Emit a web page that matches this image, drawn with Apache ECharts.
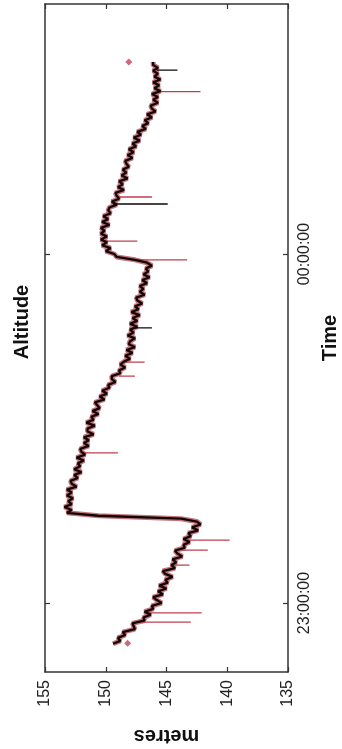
<!DOCTYPE html>
<html>
<head>
<meta charset="utf-8">
<script src="https://cdn.jsdelivr.net/npm/echarts@6/dist/echarts.min.js"></script>
<style>html,body{margin:0;padding:0;background:#fff;}#c{width:342px;height:749px;}</style>
</head>
<body>
<div id="c"></div>
<script>
// Time is minutes after 22:00; samples every 0.5 min starting at 53.0 (22:53)
const sampleStart = 53.0;
const sampleStep = 0.5;
const altitude = [
  149.4,148.8,149.0,148.4,148.6,147.6,147.7,147.8,146.8,146.9,
  146.3,146.8,146.1,146.2,145.4,145.8,146.1,145.3,145.7,145.0,
  145.6,144.9,145.1,144.5,145.1,145.3,144.3,144.6,144.2,144.5,
  143.7,144.1,144.3,143.5,143.6,143.1,143.6,143.0,143.2,142.4,
  142.9,142.2,142.5,143.8,150.6,153.2,152.8,153.4,152.8,153.1,
  152.7,153.2,152.8,153.2,152.4,152.8,152.9,152.3,152.6,152.0,
  152.6,152.1,152.3,151.8,152.4,151.7,152.0,152.1,151.4,151.8,
  151.4,151.8,151.0,151.5,151.5,150.9,151.6,151.0,151.2,150.6,
  151.1,150.5,150.7,150.9,150.1,150.5,149.9,150.3,149.7,149.8,
  149.2,149.5,149.5,148.8,148.9,148.4,148.8,148.5,148.0,148.4,
  147.8,148.3,147.6,148.1,148.0,147.6,148.2,147.7,148.0,147.4,
  148.0,147.4,147.8,147.2,147.9,147.3,147.6,147.0,147.4,147.5,
  146.8,147.2,146.9,147.2,146.6,147.0,146.4,146.9,146.5,146.7,
  146.2,146.6,147.6,149.1,149.3,150.0,149.6,150.3,149.9,150.4,
  149.9,150.4,150.1,150.4,149.7,150.3,149.8,150.2,149.6,149.8,
  149.7,149.1,149.5,148.9,149.1,149.2,148.5,149.0,148.6,148.9,
  148.2,148.7,148.3,148.6,148.1,148.3,148.4,147.8,148.2,147.7,
  148.1,147.5,147.8,147.2,147.7,147.1,147.4,146.7,147.0,146.5,
  146.8,146.2,146.6,145.9,146.2,146.3,145.7,146.1,145.7,146.2,
  145.5,146.0,145.6,146.1,145.5,146.0,145.7,146.1,145.7,146.1,
  146.1
];
// Outlier spikes: [time, base value, spike value]
const redSpikes = [
  [56.7,147.2,143.0],[58.3,146.5,142.1],[66.5,144.5,143.1],[69.1,143.8,141.6],
  [70.8,143.3,139.8],[85.8,151.9,149.0],[99.0,148.9,147.6],[101.4,148.4,146.8],
  [119.0,147.8,143.3],[122.2,150.0,147.4],[129.8,149.0,146.2],[147.9,145.8,142.2]
];
const blackSpikes = [
  [107.3,147.8,146.2],[128.6,149.4,144.9],[151.6,145.8,144.1]
];
// Isolated red points: [time, value]
const redPoints = [[53.1,148.2],[153.0,148.1]];
const timeTicks = [60,120];
const timeTickLabels = ['23:00:00','00:00:00'];
const timeMin = 48.14, timeMax = 162.98;
const valueMin = 135, valueMax = 155, valueStep = 5;

const mainData = altitude.map((v,i)=>[v, sampleStart + i*sampleStep]);
const pointData = redPoints.map(p=>[p[1],p[0]]);
function spikeData(arr){
  const out=[];
  arr.forEach(s=>{out.push([s[1],s[0]]);out.push([s[2],s[0]]);out.push(null);});
  return out;
}
const frameColor = '#333';
const FONT = '"Liberation Sans", Arial, sans-serif';
const chart = echarts.init(document.getElementById('c'));
const valAxisBase = {
  type:'value', min:valueMin, max:valueMax, interval:valueStep, inverse:true,
  splitLine:{show:false},
  axisLine:{show:true,lineStyle:{color:frameColor,width:1.5}},
  axisTick:{show:true,inside:true,length:5,lineStyle:{color:frameColor,width:1.2}}
};
const timeAxisBase = {
  type:'value', min:timeMin, max:timeMax,
  splitLine:{show:false},
  axisLine:{show:true,lineStyle:{color:frameColor,width:1.5}},
  axisTick:{show:true,inside:true,length:5,customValues:timeTicks,lineStyle:{color:frameColor,width:1.2}}
};
chart.setOption({
  animation:false,
  backgroundColor:'#fff',
  grid:{left:45,right:54,top:4,bottom:77,containLabel:false,outerBoundsMode:'none'},
  graphic:[{
    type:'text', x:22, y:322, rotation:Math.PI/2,
    style:{text:'Altitude', font:'bold 20px '+FONT, fill:'#111', textAlign:'center', textVerticalAlign:'middle'}
  }],
  xAxis:[
    Object.assign({}, valAxisBase, {
      position:'bottom',
      axisLabel:{show:true,rotate:90,margin:8,color:'#222',fontSize:16,fontFamily:FONT},
      name:'metres', nameLocation:'middle', nameRotate:180, nameGap:54,
      nameTextStyle:{fontSize:20,fontWeight:'bold',color:'#111',fontFamily:FONT}
    }),
    Object.assign({}, valAxisBase, {position:'top', axisLabel:{show:false}})
  ],
  yAxis:[
    Object.assign({}, timeAxisBase, {
      position:'right',
      axisLabel:{show:true,rotate:90,margin:9,customValues:timeTicks,color:'#222',fontSize:16,
        fontFamily:FONT,
        formatter:(v)=>timeTickLabels[timeTicks.indexOf(v)] || ''},
      name:'Time', nameLocation:'middle', nameRotate:90, nameGap:32,
      nameTextStyle:{fontSize:20,fontWeight:'bold',color:'#111',fontFamily:FONT}
    }),
    Object.assign({}, timeAxisBase, {position:'left', axisLabel:{show:false}})
  ],
  series:[
    {type:'line', xAxisIndex:0, yAxisIndex:0, data:mainData, showSymbol:false, symbol:'none',
     lineStyle:{color:'#a83a44',width:5,opacity:0.7}, z:1},
    {type:'line', xAxisIndex:0, yAxisIndex:0, data:spikeData(redSpikes), showSymbol:false, symbol:'none', connectNulls:false,
     lineStyle:{color:'#c04050',width:1.3}, z:2},
    {type:'line', xAxisIndex:0, yAxisIndex:0, data:mainData, showSymbol:false, symbol:'none',
     lineStyle:{color:'#140606',width:2.3}, z:3},
    {type:'line', xAxisIndex:0, yAxisIndex:0, data:spikeData(blackSpikes), showSymbol:false, symbol:'none', connectNulls:false,
     lineStyle:{color:'#140606',width:1.3}, z:3},
    {type:'scatter', xAxisIndex:0, yAxisIndex:0, data:pointData, symbol:'diamond', symbolSize:7,
     itemStyle:{color:'#c8405a'}, z:4}
  ]
});
</script>
</body>
</html>
